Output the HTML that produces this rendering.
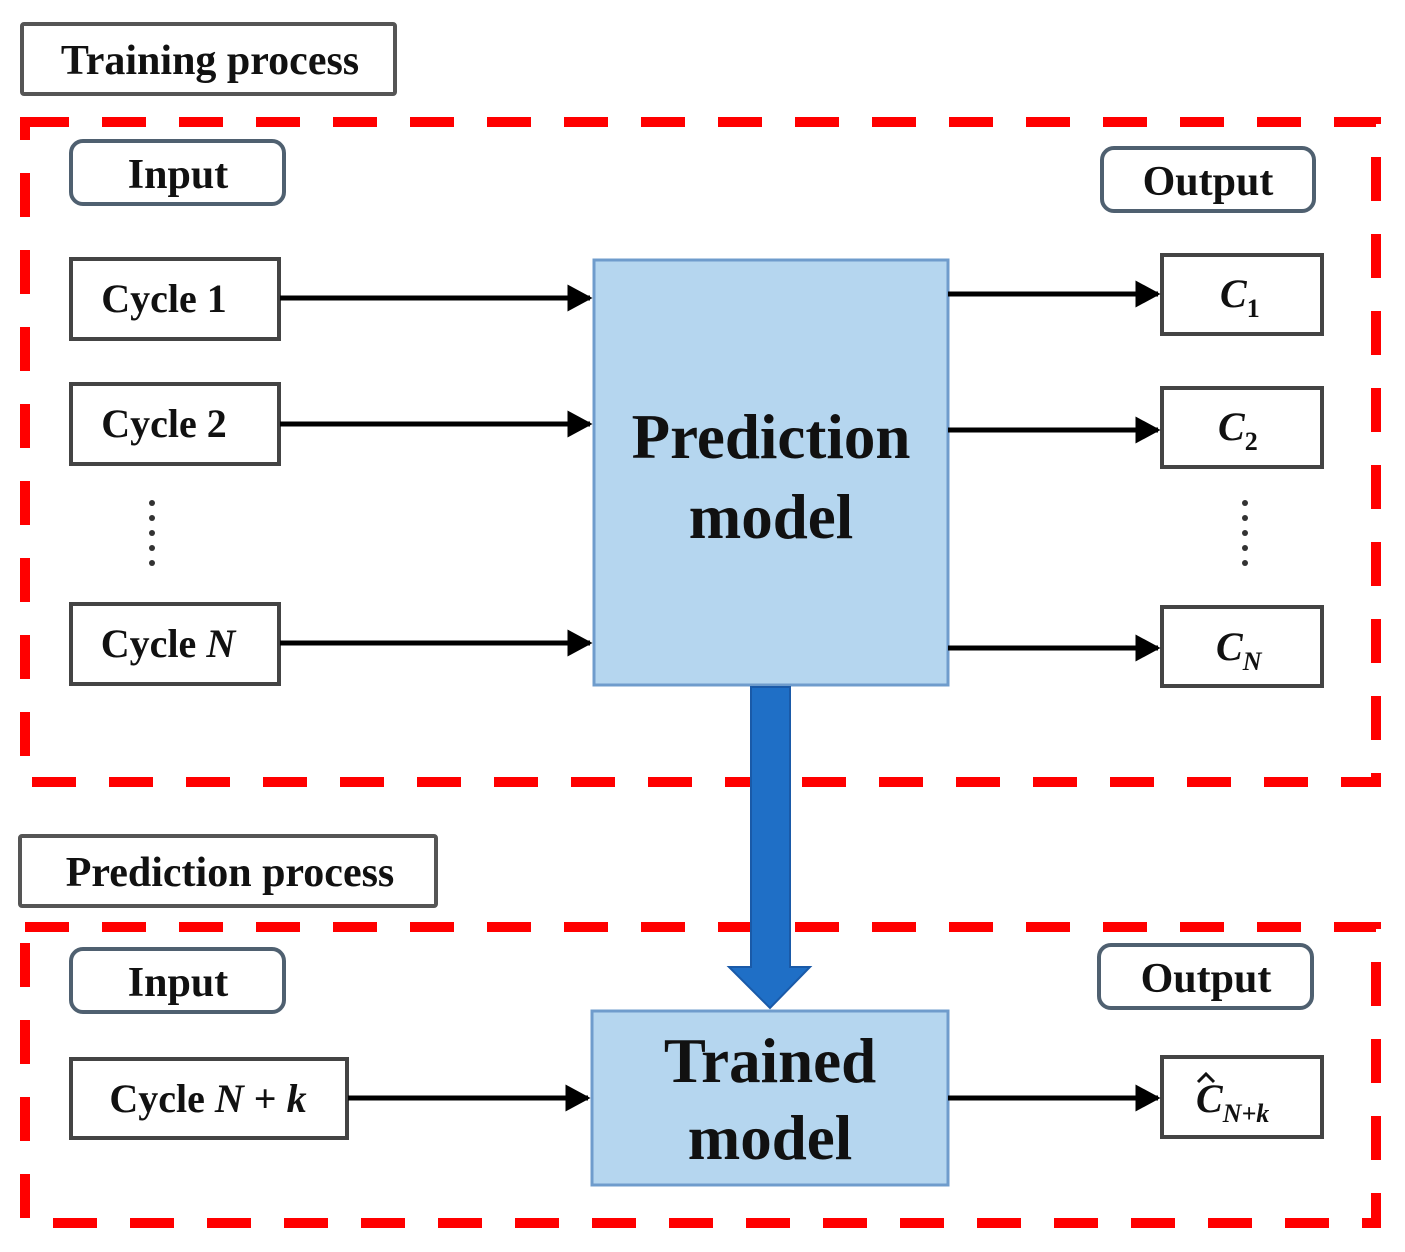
<!DOCTYPE html>
<html><head><meta charset="utf-8"><style>
html,body{margin:0;padding:0;background:#fff;}
svg{display:block;}
text{font-family:"Liberation Serif",serif;font-weight:bold;fill:#111;}
</style></head><body>
<svg width="1405" height="1252" viewBox="0 0 1405 1252" xmlns="http://www.w3.org/2000/svg">
<defs>
<marker id="ah" markerWidth="5" markerHeight="6" refX="4.5" refY="3" orient="auto" markerUnits="strokeWidth">
<path d="M0,0.3 L5,3 L0,5.7 z" fill="#000"/></marker>
</defs>
<rect x="25" y="122" width="1351" height="660" fill="none" stroke="#ff0000" stroke-width="10" stroke-dasharray="44 33"/>
<rect x="25" y="927" width="1351" height="296" fill="none" stroke="#ff0000" stroke-width="10" stroke-dasharray="44 33"/>

<rect x="22" y="24" width="373" height="70" fill="#fff" stroke="#555" stroke-width="4" rx="2"/>
<text x="210" y="74" font-size="42" text-anchor="middle">Training process</text>
<rect x="20" y="836" width="416" height="70" fill="#fff" stroke="#555" stroke-width="4" rx="2"/>
<text x="230" y="886" font-size="42" text-anchor="middle">Prediction process</text>

<rect x="71" y="141" width="213" height="63" rx="12" fill="#fff" stroke="#4f6070" stroke-width="4"/>
<text x="178" y="188" font-size="42" text-anchor="middle">Input</text>
<rect x="1102" y="148" width="212" height="63" rx="12" fill="#fff" stroke="#4f6070" stroke-width="4"/>
<text x="1208" y="195" font-size="42" text-anchor="middle">Output</text>
<rect x="71" y="949" width="213" height="63" rx="12" fill="#fff" stroke="#4f6070" stroke-width="4"/>
<text x="178" y="996" font-size="42" text-anchor="middle">Input</text>
<rect x="1099" y="945" width="213" height="63" rx="12" fill="#fff" stroke="#4f6070" stroke-width="4"/>
<text x="1206" y="992" font-size="42" text-anchor="middle">Output</text>

<g fill="#fff" stroke="#444" stroke-width="4">
<rect x="71" y="259" width="208" height="80"/>
<rect x="71" y="384" width="208" height="80"/>
<rect x="71" y="604" width="208" height="80"/>
<rect x="71" y="1059" width="276" height="79"/>
<rect x="1162" y="255" width="160" height="79"/>
<rect x="1162" y="388" width="160" height="79"/>
<rect x="1162" y="607" width="160" height="79"/>
<rect x="1162" y="1057" width="160" height="80"/>
</g>
<text x="164" y="312" font-size="40" text-anchor="middle">Cycle 1</text>
<text x="164" y="437" font-size="40" text-anchor="middle">Cycle 2</text>
<text x="168" y="657" font-size="40" text-anchor="middle">Cycle <tspan font-style="italic">N</tspan></text>
<text x="208" y="1112" font-size="40" text-anchor="middle">Cycle <tspan font-style="italic">N</tspan> + <tspan font-style="italic">k</tspan></text>

<text x="1220" y="307" font-size="40" font-style="italic">C<tspan font-size="26" font-style="normal" dy="10">1</tspan></text>
<text x="1218" y="440" font-size="40" font-style="italic">C<tspan font-size="26" font-style="normal" dy="10">2</tspan></text>
<text x="1216" y="660" font-size="40" font-style="italic">C<tspan font-size="26" dy="10">N</tspan></text>
<text x="1196" y="1112" font-size="40" font-style="italic">C<tspan font-size="26" dy="10">N+k</tspan></text>
<path d="M1198 1082 L1206 1074 L1214 1082" fill="none" stroke="#111" stroke-width="3"/>

<g fill="#333">
<circle cx="152" cy="503" r="3"/><circle cx="152" cy="518" r="3"/><circle cx="152" cy="533" r="3"/><circle cx="152" cy="548" r="3"/><circle cx="152" cy="563" r="3"/>
<circle cx="1245" cy="503" r="3"/><circle cx="1245" cy="518" r="3"/><circle cx="1245" cy="533" r="3"/><circle cx="1245" cy="548" r="3"/><circle cx="1245" cy="563" r="3"/>
</g>

<rect x="594" y="260" width="354" height="425" fill="#b5d6ef" stroke="#6f9ccc" stroke-width="3"/>
<text x="771" y="458" font-size="63" text-anchor="middle">Prediction</text>
<text x="771" y="538" font-size="63" text-anchor="middle">model</text>
<rect x="592" y="1011" width="356" height="174" fill="#b5d6ef" stroke="#6f9ccc" stroke-width="3"/>
<text x="770" y="1082" font-size="63" text-anchor="middle">Trained</text>
<text x="770" y="1159" font-size="63" text-anchor="middle">model</text>

<g stroke="#000" stroke-width="5" marker-end="url(#ah)">
<line x1="280" y1="298" x2="590" y2="298"/>
<line x1="280" y1="424" x2="590" y2="424"/>
<line x1="280" y1="643" x2="590" y2="643"/>
<line x1="348" y1="1098" x2="588" y2="1098"/>
<line x1="948" y1="294" x2="1158" y2="294"/>
<line x1="948" y1="430" x2="1158" y2="430"/>
<line x1="948" y1="648" x2="1158" y2="648"/>
<line x1="948" y1="1098" x2="1158" y2="1098"/>
</g>

<path d="M751 687 L790 687 L790 967 L810 967 L770 1008 L729 967 L751 967 Z" fill="#1f6fc6" stroke="#1a5aa8" stroke-width="2"/>
</svg>
</body></html>
